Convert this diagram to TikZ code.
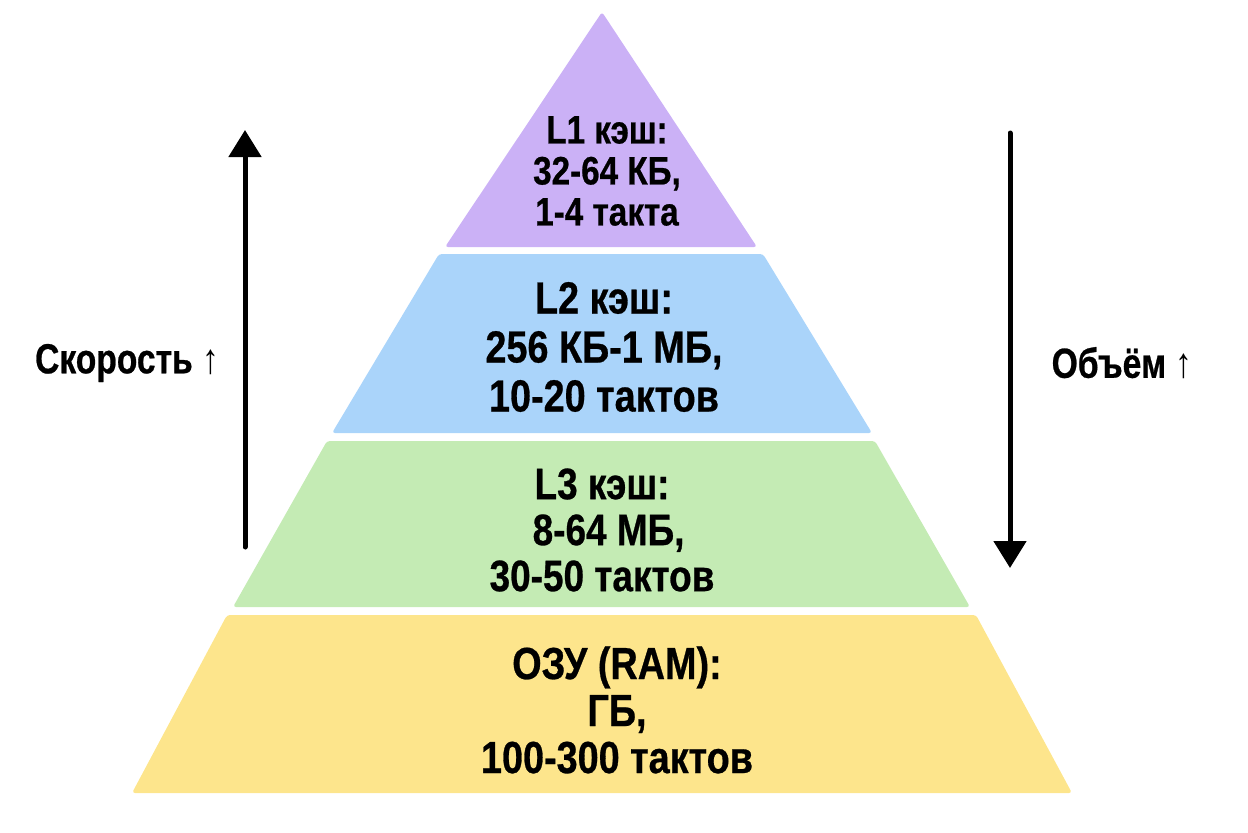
\documentclass[tikz,border=0pt]{standalone}
\usepackage{fontspec}
\newfontfamily\pyrfont{Liberation Sans}[FakeStretch=0.84,BoldFeatures={FakeBold=0.6}]
\newfontfamily\sidefont{Liberation Sans}[FakeStretch=0.8,BoldFeatures={FakeBold=0.6}]
\usepackage{tikz}
\usetikzlibrary{arrows.meta}
\definecolor{lonecol}{HTML}{CBB1F6}
\definecolor{ltwocol}{HTML}{AAD4FA}
\definecolor{lthreecol}{HTML}{C4EBB4}
\definecolor{ramcol}{HTML}{FDE58C}
\tikzset{
  layer/.style={rounded corners=1.5pt},
  layertext/.style={inner sep=0pt, align=center, text=black},
  sidetext/.style={inner sep=0pt, text=black, font=\sidefont\bfseries\fontsize{21}{24}\selectfont},
  bigarrow/.style={line width=2.5pt, line cap=round, -{Triangle[length=13.5pt,width=16pt]}}
}

\begin{document}
\begin{tikzpicture}[x=0.5pt,y=-0.5pt]
			\useasboundingbox (0,0) rectangle (1248,832);
			\fill [lonecol,layer] (602,12) -- (757,247) -- (445,247) -- cycle;
			\fill [ltwocol,layer] (439,254) -- (763,254) -- (872,433) -- (332,433) -- cycle;
			\fill [lthreecol,layer] (327,441) -- (875,441) -- (970,607) -- (233,607) -- cycle;
			\fill [ramcol,layer] (227,615) -- (976,615) -- (1072,793) -- (132,793) -- cycle;
			\node [layertext,font=\pyrfont\bfseries\fontsize{19.8}{20.5}\selectfont] (lone) at (607,171) {L1 кэш:\\32-64 КБ,\\1-4 такта};
			\node [layertext,font=\pyrfont\bfseries\fontsize{22.5}{24.5}\selectfont] (ltwo) at (604,347) {L2 кэш:\\256 КБ-1 МБ,\\10-20 тактов};
			\node [layertext,font=\pyrfont\bfseries\fontsize{22}{23}\selectfont] (lthree) at (602,530) {L3 кэш:\\\hspace*{0.3em}8-64 МБ,\\30-50 тактов};
			\node [layertext,font=\pyrfont\bfseries\fontsize{22.5}{23.5}\selectfont] (ram) at (617,710) {ОЗУ (RAM):\\ГБ,\\100-300 тактов};
			\coordinate (speedlow) at (245,547);
			\coordinate (speedhigh) at (245,130);
			\coordinate (sizetop) at (1010,133);
			\coordinate (sizebottom) at (1010,568);
			\draw [bigarrow] (speedlow) -- (speedhigh);
			\draw [bigarrow] (sizetop) -- (sizebottom);
			\node [sidetext] (speed) at (127,363) {Скорость {\mdseries ↑}};
			\node [sidetext] (size) at (1122,363) {Объём {\mdseries ↑}};
		\end{tikzpicture}
\end{document}
